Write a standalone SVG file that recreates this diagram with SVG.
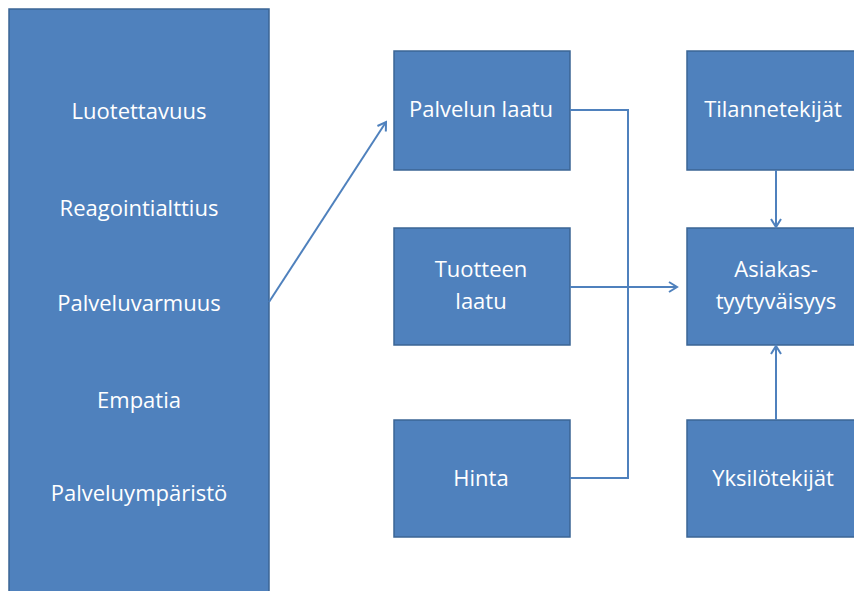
<svg xmlns="http://www.w3.org/2000/svg" width="854" height="591" viewBox="0 0 854 591">
<style>
.box{fill:#4f81bd;stroke:#3b6595;stroke-width:1.5}
.t{fill:#fff;font-family:"Open Sans","Liberation Sans",Arial,sans-serif;font-size:22px;text-anchor:middle}
.c{fill:none;stroke:#4f81bd;stroke-width:2}
</style>
<defs>
<marker id="a" markerWidth="12" markerHeight="12" refX="10" refY="6" orient="auto" markerUnits="userSpaceOnUse">
<path d="M2,1 L10,6 L2,11" fill="none" stroke="#4f81bd" stroke-width="2"/>
</marker>
</defs>
<rect width="854" height="591" fill="#fff"/>
<g id="left">
<rect class="box" x="9" y="9" width="260" height="600"/>
<text class="t" x="139" y="119">Luotettavuus</text>
<text class="t" x="139" y="216">Reagointialttius</text>
<text class="t" x="139" y="311">Palveluvarmuus</text>
<text class="t" x="139" y="408">Empatia</text>
<text class="t" x="139" y="501">Palveluympäristö</text>
</g>
<g id="palvelun">
<rect class="box" x="394" y="51" width="176" height="119"/>
<text class="t" x="481" y="117">Palvelun laatu</text>
</g>
<g id="tuotteen">
<rect class="box" x="394" y="228" width="176" height="117"/>
<text class="t" x="481" y="277">Tuotteen</text>
<text class="t" x="481" y="309">laatu</text>
</g>
<g id="hinta">
<rect class="box" x="394" y="420" width="176" height="117"/>
<text class="t" x="481" y="486">Hinta</text>
</g>
<g id="tilanne">
<rect class="box" x="687" y="51" width="180" height="119"/>
<text class="t" x="773" y="117">Tilannetekijät</text>
</g>
<g id="asiakas">
<rect class="box" x="687" y="228" width="180" height="117"/>
<text class="t" x="776" y="277">Asiakas-</text>
<text class="t" x="776" y="309">tyytyväisyys</text>
</g>
<g id="yksilo">
<rect class="box" x="687" y="420" width="180" height="117"/>
<text class="t" x="773" y="486">Yksilötekijät</text>
</g>
<g id="connectors">
<line class="c" x1="269" y1="302" x2="386" y2="122" marker-end="url(#a)"/>
<polyline class="c" points="570,110 628,110 628,478 570,478"/>
<line class="c" x1="570" y1="287" x2="677" y2="287" marker-end="url(#a)"/>
<line class="c" x1="776" y1="170" x2="776" y2="227" marker-end="url(#a)"/>
<line class="c" x1="776" y1="420" x2="776" y2="346" marker-end="url(#a)"/>
</g>
</svg>
